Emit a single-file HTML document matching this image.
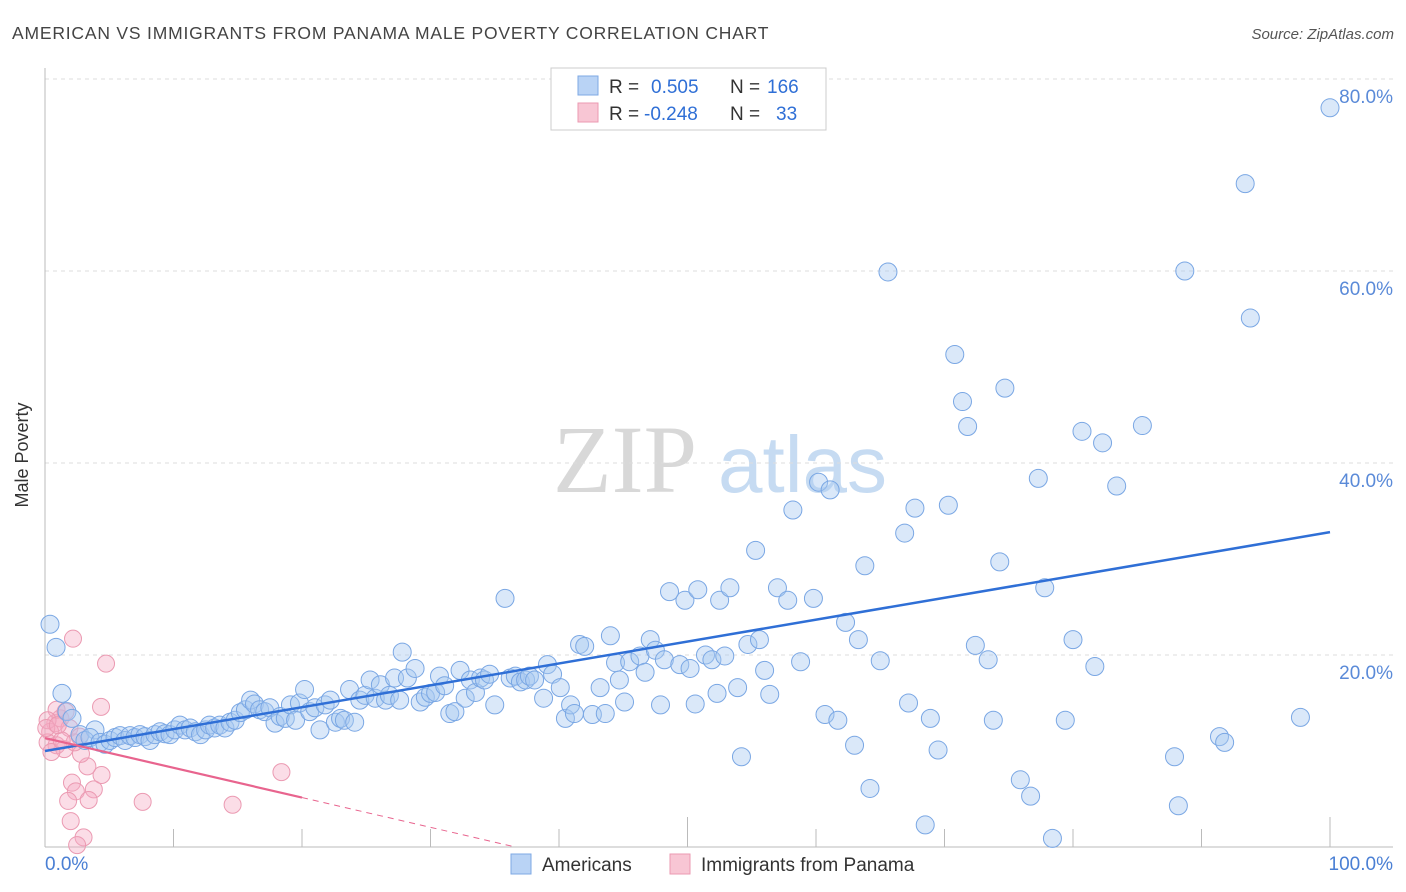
<!DOCTYPE html>
<html><head><meta charset="utf-8">
<style>
body{margin:0;background:#fff;font-family:"Liberation Sans",sans-serif;}
#wrap{position:relative;width:1406px;height:892px;overflow:hidden;}
</style></head>
<body>
<div id="wrap">
<svg id="svg" width="1406" height="892" xmlns="http://www.w3.org/2000/svg">
<text x="12" y="39" font-size="17.5" fill="#444" letter-spacing="0.8">AMERICAN VS IMMIGRANTS FROM PANAMA MALE POVERTY CORRELATION CHART</text>
<text x="1394" y="39" font-size="15" fill="#555" font-style="italic" text-anchor="end">Source: ZipAtlas.com</text>
<g>
<text x="553" y="492" font-size="96" font-family="Liberation Serif, serif" fill="#d8d8d8">ZIP</text>
<text x="718" y="492" font-size="80" fill="#c6dbf2">atlas</text>
</g>
<g id="grid"></g>
<g id="axes"></g>
<g id="pink"></g>
<g id="blue"></g>
<g id="trends"></g>
<text x="28" y="455" font-size="18" fill="#333" text-anchor="middle" transform="rotate(-90 28 455)">Male Poverty</text>
<text x="45" y="870" font-size="19" fill="#4a7fd4">0.0%</text>
<text x="1393" y="870" font-size="19" fill="#4a7fd4" text-anchor="end">100.0%</text>
<g>
<rect x="551" y="68" width="275" height="62" fill="#fff" stroke="#ccc"/>
<rect x="578" y="76" width="20" height="19" fill="#b9d3f5" stroke="#7ea8e4"/>
<rect x="578" y="103" width="20" height="19" fill="#f8c6d4" stroke="#eb9ab2"/>
<text x="609" y="93" font-size="19" fill="#333">R = <tspan x="651" fill="#2f6fd6">0.505</tspan><tspan x="730" fill="#333">N =</tspan><tspan x="767" fill="#2f6fd6">166</tspan></text>
<text x="609" y="120" font-size="19" fill="#333">R = <tspan x="644" fill="#2f6fd6">-0.248</tspan><tspan x="730" fill="#333">N =</tspan><tspan x="776" fill="#2f6fd6">33</tspan></text>
</g>
<g>
<rect x="511" y="854" width="20" height="20" fill="#b9d3f5" stroke="#7ea8e4"/>
<text x="542" y="871" font-size="19" fill="#333">Americans</text>
<rect x="670" y="854" width="20" height="20" fill="#f8c6d4" stroke="#eb9ab2"/>
<text x="701" y="871" font-size="19" fill="#333">Immigrants from Panama</text>
</g>
</svg>
</div>
<script>
const yTicks=[20,40,60,80];
const yTickLabels=["20.0%","40.0%","60.0%","80.0%"];
const xTicks=[10,20,30,40,50,60,70,80,90,100];
const blueX=[0.39,0.86,1.32,1.71,2.1,2.72,3.89,3.11,3.5,4.28,4.67,5.06,5.45,5.84,6.23,6.61,7.0,7.39,7.78,8.17,8.56,8.95,9.34,9.73,10.1,10.5,10.9,11.3,11.7,12.1,12.5,12.8,13.2,13.6,14.0,14.4,14.8,15.2,15.6,16.0,16.3,16.7,17.1,17.5,17.9,18.3,18.7,19.1,19.5,19.8,20.2,20.6,21.0,21.4,21.8,22.2,22.6,23.0,23.3,23.7,24.1,24.5,24.9,25.3,25.7,26.1,26.5,26.8,27.2,27.6,27.8,28.2,28.8,29.2,29.6,30.0,30.4,30.7,31.1,31.5,31.9,32.3,32.7,33.1,33.5,33.9,34.2,34.6,35.0,35.8,36.2,36.6,37.0,37.4,37.7,38.1,38.8,39.1,39.5,40.1,40.5,40.9,41.2,41.6,42.0,42.6,43.2,43.6,44.0,44.4,44.7,45.1,45.5,46.3,46.7,47.1,47.5,47.9,48.2,48.6,49.4,49.8,50.2,50.6,50.8,51.4,51.9,52.3,52.5,52.9,53.3,53.9,54.2,54.7,55.3,55.6,56.0,56.4,57.0,57.8,58.2,58.8,59.8,60.2,60.7,61.1,61.7,62.3,63.0,63.3,63.8,64.2,65.0,65.6,66.9,67.2,67.7,68.5,68.9,69.5,70.3,70.8,71.4,71.8,72.4,73.4,73.8,74.3,74.7,75.9,76.7,77.3,77.8,78.4,79.4,80.0,80.7,81.7,82.3,83.4,85.4,87.9,88.2,88.7,91.4,91.8,93.4,93.8,97.7,100];
const blueY=[23.2,20.8,16.0,14.1,13.4,11.7,12.2,11.1,11.4,10.9,10.7,11.1,11.4,11.6,11.1,11.6,11.4,11.7,11.5,11.1,11.7,12.0,11.8,11.7,12.2,12.7,12.2,12.4,12.0,11.7,12.2,12.7,12.4,12.7,12.4,13.0,13.2,14.0,14.3,15.3,14.9,14.3,14.1,14.5,12.9,13.6,13.4,14.8,13.2,15.0,16.4,14.1,14.5,12.2,14.8,15.3,13.0,13.4,13.2,16.4,13.0,15.3,15.8,17.4,15.5,16.9,15.3,15.8,17.6,15.3,20.3,17.6,18.6,15.1,15.6,16.0,16.1,17.8,16.8,13.9,14.1,18.4,15.5,17.4,16.1,17.6,17.4,18.0,14.8,25.9,17.6,17.8,17.2,17.4,17.8,17.4,15.5,19.0,18.0,16.6,13.4,14.8,13.9,21.1,20.9,13.8,16.6,13.9,22.0,19.2,17.4,15.1,19.3,19.9,18.2,21.6,20.5,14.8,19.5,26.6,19.0,25.7,18.6,14.9,26.8,20.0,19.5,16.0,25.7,19.9,27.0,16.6,9.4,21.1,30.9,21.6,18.4,15.9,27.0,25.7,35.1,19.3,25.9,38.0,13.8,37.2,13.2,23.4,10.6,21.6,29.3,6.1,19.4,59.9,32.7,15.0,35.3,2.3,13.4,10.1,35.6,51.3,46.4,43.8,21.0,19.5,13.2,29.7,47.8,7.0,5.3,38.4,27.0,0.9,13.2,21.6,43.3,18.8,42.1,37.6,43.9,9.4,4.3,60.0,11.5,10.9,69.1,55.1,13.5,77.0];
const pinkX=[2.18,4.75,4.36,18.4,7.6,14.6,2.1,2.4,3.8,3.4,1.8,2.0,3.0,2.5,4.4,3.3,2.8,0.8,0.4,1.2,1.9,0.9,1.5,2.3,2.7,0.2,0.5,0.9,0.2,1.6,1.3,0.1,1.0];
const pinkY=[21.7,19.1,14.6,7.8,4.7,4.4,6.7,5.8,6.0,4.9,4.8,2.7,1.0,0.2,7.5,8.4,9.7,12.9,12.0,13.4,12.4,10.6,10.2,10.9,11.5,10.9,9.9,14.3,13.2,14.1,11.1,12.4,12.7];
const blueTrend=[10.0,0.228];   // intercept, slope
const pinkTrend=[11.35,-0.31];
const pinkSolidEnd=20;

const NS="http://www.w3.org/2000/svg";
const X0=45,X1=1330,Y0=847,YPX=9.6;
function sx(v){return X0+(X1-X0)*v/100;}
function sy(v){return Y0-v*YPX;}
function mk(tag,attrs,parent){const e=document.createElementNS(NS,tag);for(const k in attrs)e.setAttribute(k,attrs[k]);parent.appendChild(e);return e;}
const grid=document.getElementById('grid'),axes=document.getElementById('axes');
yTicks.forEach((t,i)=>{
  const l=mk('line',{x1:45,x2:1393,y1:sy(t),y2:sy(t),stroke:'#ddd','stroke-dasharray':'4,4'},grid);
  
  
  const tx=mk('text',{x:1393,y:sy(t)+24,'font-size':19,fill:'#5a8ad8','text-anchor':'end'},grid);
  tx.textContent=yTickLabels[i];
  
  
});
let a=mk('line',{x1:45,x2:45,y1:68,y2:847,stroke:'#bbb'},axes);


a=mk('line',{x1:45,x2:1393,y1:847,y2:847,stroke:'#bbb'},axes);


xTicks.forEach(t=>{
  const long=(t%50===0);
  const l=mk('line',{x1:sx(t),x2:sx(t),y1:long?817:829,y2:847,stroke:'#bbb'},axes);
  
  
});
const pg=document.getElementById('pink');
pinkX.forEach((x,i)=>{
  const c=mk('circle',{cx:sx(x),cy:sy(pinkY[i]),r:8.5,fill:'rgba(246,170,195,0.4)',stroke:'#eb9ab2','stroke-width':1},pg);
  
  
});
const bg=document.getElementById('blue');
blueX.forEach((x,i)=>{
  const c=mk('circle',{cx:sx(x),cy:sy(blueY[i]),r:9,fill:'rgba(168,200,240,0.42)',stroke:'#7aa7e4','stroke-width':1},bg);
  
  
});
const tg=document.getElementById('trends');
let t=mk('line',{x1:sx(0),y1:sy(blueTrend[0]),x2:sx(100),y2:sy(blueTrend[0]+blueTrend[1]*100),stroke:'#2f6fd6','stroke-width':2.5},tg);


t=mk('line',{x1:sx(0),y1:sy(pinkTrend[0]),x2:sx(pinkSolidEnd),y2:sy(pinkTrend[0]+pinkTrend[1]*pinkSolidEnd),stroke:'#e8648e','stroke-width':2.2},tg);


const zeroX=-pinkTrend[0]/pinkTrend[1];
t=mk('line',{x1:sx(pinkSolidEnd),y1:sy(pinkTrend[0]+pinkTrend[1]*pinkSolidEnd),x2:sx(zeroX),y2:sy(0),stroke:'#e8648e','stroke-width':1,'stroke-dasharray':'6,5'},tg);


</script>
</body></html>
